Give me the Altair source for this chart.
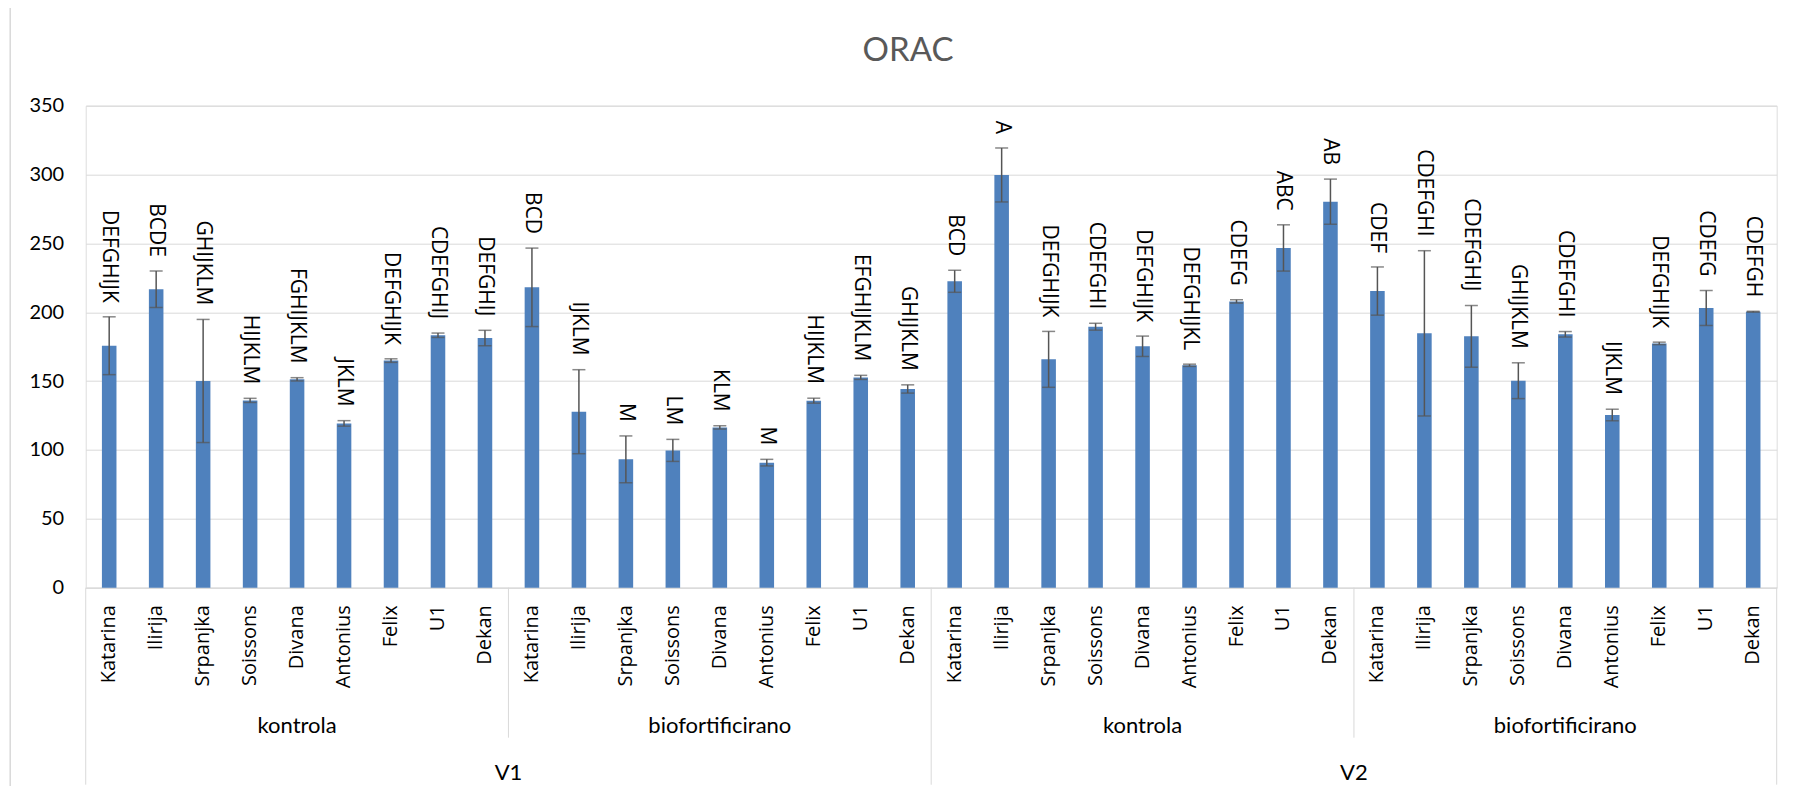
import altair as alt
import pandas as pd

years = ["V1", "V2"]
treatments = ["kontrola", "biofortificirano"]
varieties = ["Katarina", "Ilirija", "Srpanjka", "Soissons", "Divana",
             "Antonius", "Felix", "U1", "Dekan"]

values = [
    175.7, 216.7, 150.1, 136.0, 151.3, 119.3, 164.9, 183.3, 181.3,
    218.1, 127.8, 93.2, 99.7, 116.4, 90.8, 135.8, 152.7, 144.3,
    222.5, 299.7, 165.8, 189.5, 175.3, 161.5, 207.9, 246.7, 280.3,
    215.4, 184.7, 182.5, 150.3, 184.0, 125.4, 177.4, 203.1, 200.4,
]
errors = [
    21.0, 13.3, 44.7, 1.5, 1.2, 2.0, 1.3, 1.6, 5.6,
    28.5, 30.5, 17.0, 8.0, 1.2, 2.4, 1.8, 1.5, 3.0,
    8.0, 19.6, 20.3, 2.5, 7.4, 0.8, 1.2, 16.8, 16.4,
    17.5, 60.0, 22.4, 13.0, 2.0, 4.2, 0.9, 12.7, 0.3,
]
letters = [
    "DEFGHIJK", "BCDE", "GHIJKLM", "HIJKLM", "FGHIJKLM", "JKLM", "DEFGHIJK", "CDEFGHIJ", "DEFGHIJ",
    "BCD", "IJKLM", "M", "LM", "KLM", "M", "HIJKLM", "EFGHIJKLM", "GHIJKLM",
    "BCD", "A", "DEFGHIJK", "CDEFGHI", "DEFGHIJK", "DEFGHIJKL", "CDEFG", "ABC", "AB",
    "CDEF", "CDEFGHI", "CDEFGHIJ", "GHIJKLM", "CDEFGHI", "IJKLM", "DEFGHIJK", "CDEFG", "CDEFGH",
]
title_text = "ORAC"

rows = []
i = 0
for yr in years:
    for tr in treatments:
        for v in varieties:
            rows.append({"key": f"{yr}|{tr}|{v}", "year": yr, "treat": tr, "variety": v,
                         "value": values[i], "lo": values[i] - errors[i],
                         "hi": values[i] + errors[i], "letters": letters[i]})
            i += 1
df = pd.DataFrame(rows)
keys = list(df["key"])
n = len(varieties)

W, H = 1691, 482
GRID = "#D9D9D9"

xscale = alt.Scale(domain=keys, paddingInner=0, paddingOuter=0)
xax = alt.Axis(title=None, labelExpr="split(datum.label, '|')[2]", labelAngle=-90,
               labelAlign="right", labelBaseline="middle", labelPadding=17,
               ticks=False, tickSize=0, domainColor=GRID, domainWidth=1,
               labelFont="Open Sans", labelFontSize=20, labelColor="#000000",
               grid=False)
yax = alt.Axis(title=None, values=[0, 50, 100, 150, 200, 250, 300, 350],
               domain=False, ticks=False, tickSize=0, labelPadding=22,
               labelFont="Lato", labelFontSize=20, labelColor="#000000",
               gridColor=GRID, gridWidth=1)


def xenc(bp=None):
    if bp is None:
        return alt.X("key:N", scale=xscale, axis=xax, sort=None)
    return alt.X("key:N", scale=xscale, axis=xax, sort=None, bandPosition=bp)


base = alt.Chart(df)
Y = alt.Y("value:Q", scale=alt.Scale(domain=[0, 350], nice=False), axis=yax)

bars = base.mark_bar(width=alt.RelativeBandSize(0.31), color="#4F81BD").encode(x=xenc(), y=Y)

ERR = "#555555"
err_rule = base.mark_rule(color=ERR, strokeWidth=1.5).encode(x=xenc(), y="lo:Q", y2="hi:Q")
cap_hi = base.mark_tick(color=ERR, thickness=1.5, size=13, orient="horizontal").encode(
    x=xenc(), y="hi:Q")
cap_lo = base.mark_tick(color=ERR, thickness=1.5, size=13, orient="horizontal").encode(
    x=xenc(), y="lo:Q")

labels = base.mark_text(angle=90, align="right", baseline="middle", dx=-14,
                        font="Open Sans", fontSize=21, color="#000000").encode(
    x=xenc(), y="hi:Q", text="letters:N")

# separators for the multi-level category axis
long_df = pd.DataFrame({"key": [keys[0], keys[2 * n]]})
short_df = pd.DataFrame({"key": [keys[n], keys[3 * n]]})
end_df = pd.DataFrame({"key": [keys[-1]]})

sep_long = alt.Chart(long_df).mark_rule(color=GRID, strokeWidth=1).encode(
    x=xenc(0), y=alt.value(H), y2=alt.value(H + 197))
sep_end = alt.Chart(end_df).mark_rule(color=GRID, strokeWidth=1).encode(
    x=xenc(1), y=alt.value(H), y2=alt.value(H + 197))
sep_short = alt.Chart(short_df).mark_rule(color=GRID, strokeWidth=1).encode(
    x=xenc(0), y=alt.value(H), y2=alt.value(H + 150))

treat_df = pd.DataFrame({"key": [keys[g * n + 4] for g in range(4)],
                         "lab": [t for _ in years for t in treatments]})
year_df = pd.DataFrame({"key": [keys[n], keys[3 * n]], "lab": years})

treat_text = alt.Chart(treat_df).mark_text(font="Lato", fontSize=22, color="#000000",
                                           baseline="middle").encode(
    x=xenc(), y=alt.value(620), text="lab:N")
year_text = alt.Chart(year_df).mark_text(font="Lato", fontSize=22, color="#000000",
                                         baseline="middle").encode(
    x=xenc(0), y=alt.value(667), text="lab:N")

# outer chart frame (left and top edges) and title
frame_left = alt.Chart(end_df).mark_rule(color=GRID, strokeWidth=1.5).encode(
    x=alt.value(-75.5), y=alt.value(-98.5), y2=alt.value(H + 200))
frame_top = alt.Chart(end_df).mark_rule(color=GRID, strokeWidth=1.5).encode(
    x=alt.value(-75.5), x2=alt.value(W + 30), y=alt.value(-98.5))
title = alt.Chart(end_df).mark_text(text=title_text, font="Lato", fontSize=33,
                                    color="#595959", align="center",
                                    baseline="middle").encode(
    x=alt.value(908 - 85.7), y=alt.value(51 - 105.7))

chart = alt.layer(
    bars, err_rule, cap_hi, cap_lo, labels,
    sep_long, sep_end, sep_short, treat_text, year_text,
    frame_left, frame_top, title,
).properties(
    width=W, height=H,
    autosize=alt.AutoSizeParams(type="none"),
    padding={"left": 77.7, "top": 97.7, "right": 10, "bottom": 198},
).configure_view(stroke=None).configure(background="white")

chart.save("out.html", embed_options={"renderer": "svg", "actions": False})
